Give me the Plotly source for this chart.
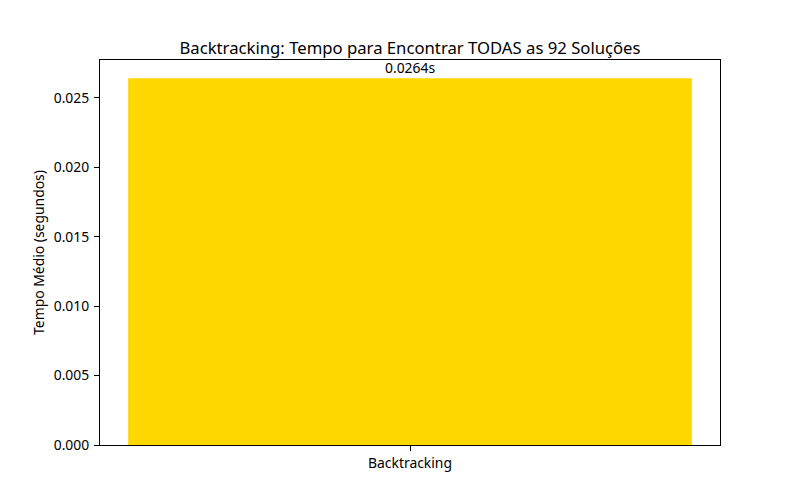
import plotly.graph_objects as go

categories = ["Backtracking"]
values = [0.0264]
labels = ["0.0264s"]
y_ticks = [0.0, 0.005, 0.010, 0.015, 0.020, 0.025]
y_tick_text = ["0.000", "0.005", "0.010", "0.015", "0.020", "0.025"]

FONT = "Noto Sans, DejaVu Sans, sans-serif"

fig = go.Figure()
fig.add_trace(go.Bar(
    x=[0], y=values, width=0.8,
    marker=dict(color="#FFD700", line=dict(width=0)),
    hoverinfo="skip",
))
for i, (v, t) in enumerate(zip(values, labels)):
    fig.add_annotation(x=i, y=v, xref="x", yref="y", text=t, showarrow=False,
                       yanchor="bottom", yshift=-1, font=dict(size=13.9, color="black", family=FONT))

fig.update_layout(
    width=800, height=500,
    margin=dict(l=100, r=80, t=60, b=55),
    plot_bgcolor="white", paper_bgcolor="white",
    showlegend=False,
    font=dict(family=FONT, size=13.9, color="black"),
    title=dict(text="Backtracking: Tempo para Encontrar TODAS as 92 Soluções",
               x=0.5, xref="paper", xanchor="center",
               y=1, yref="paper", yanchor="bottom", pad=dict(b=6),
               font=dict(size=16.7, family=FONT, color="black")),
)
fig.update_xaxes(
    range=[-0.44, 0.44], tickmode="array", tickvals=list(range(len(categories))),
    ticktext=categories, showline=True, linecolor="black", linewidth=1, mirror=True,
    ticks="outside", ticklen=5, tickcolor="black", showgrid=False, zeroline=False,
    tickfont=dict(size=13.9),
)
fig.update_yaxes(
    range=[0, max(values) * 1.05], tickmode="array", tickvals=y_ticks, ticktext=y_tick_text,
    showline=True, linecolor="black", linewidth=1, mirror=True,
    ticks="outside", ticklen=5, tickcolor="black", showgrid=False, zeroline=False,
    tickfont=dict(size=13.9), ticklabelstandoff=2,
    title=dict(text="Tempo Médio (segundos)", font=dict(size=13.9), standoff=5),
)
fig.write_html("out.html")
